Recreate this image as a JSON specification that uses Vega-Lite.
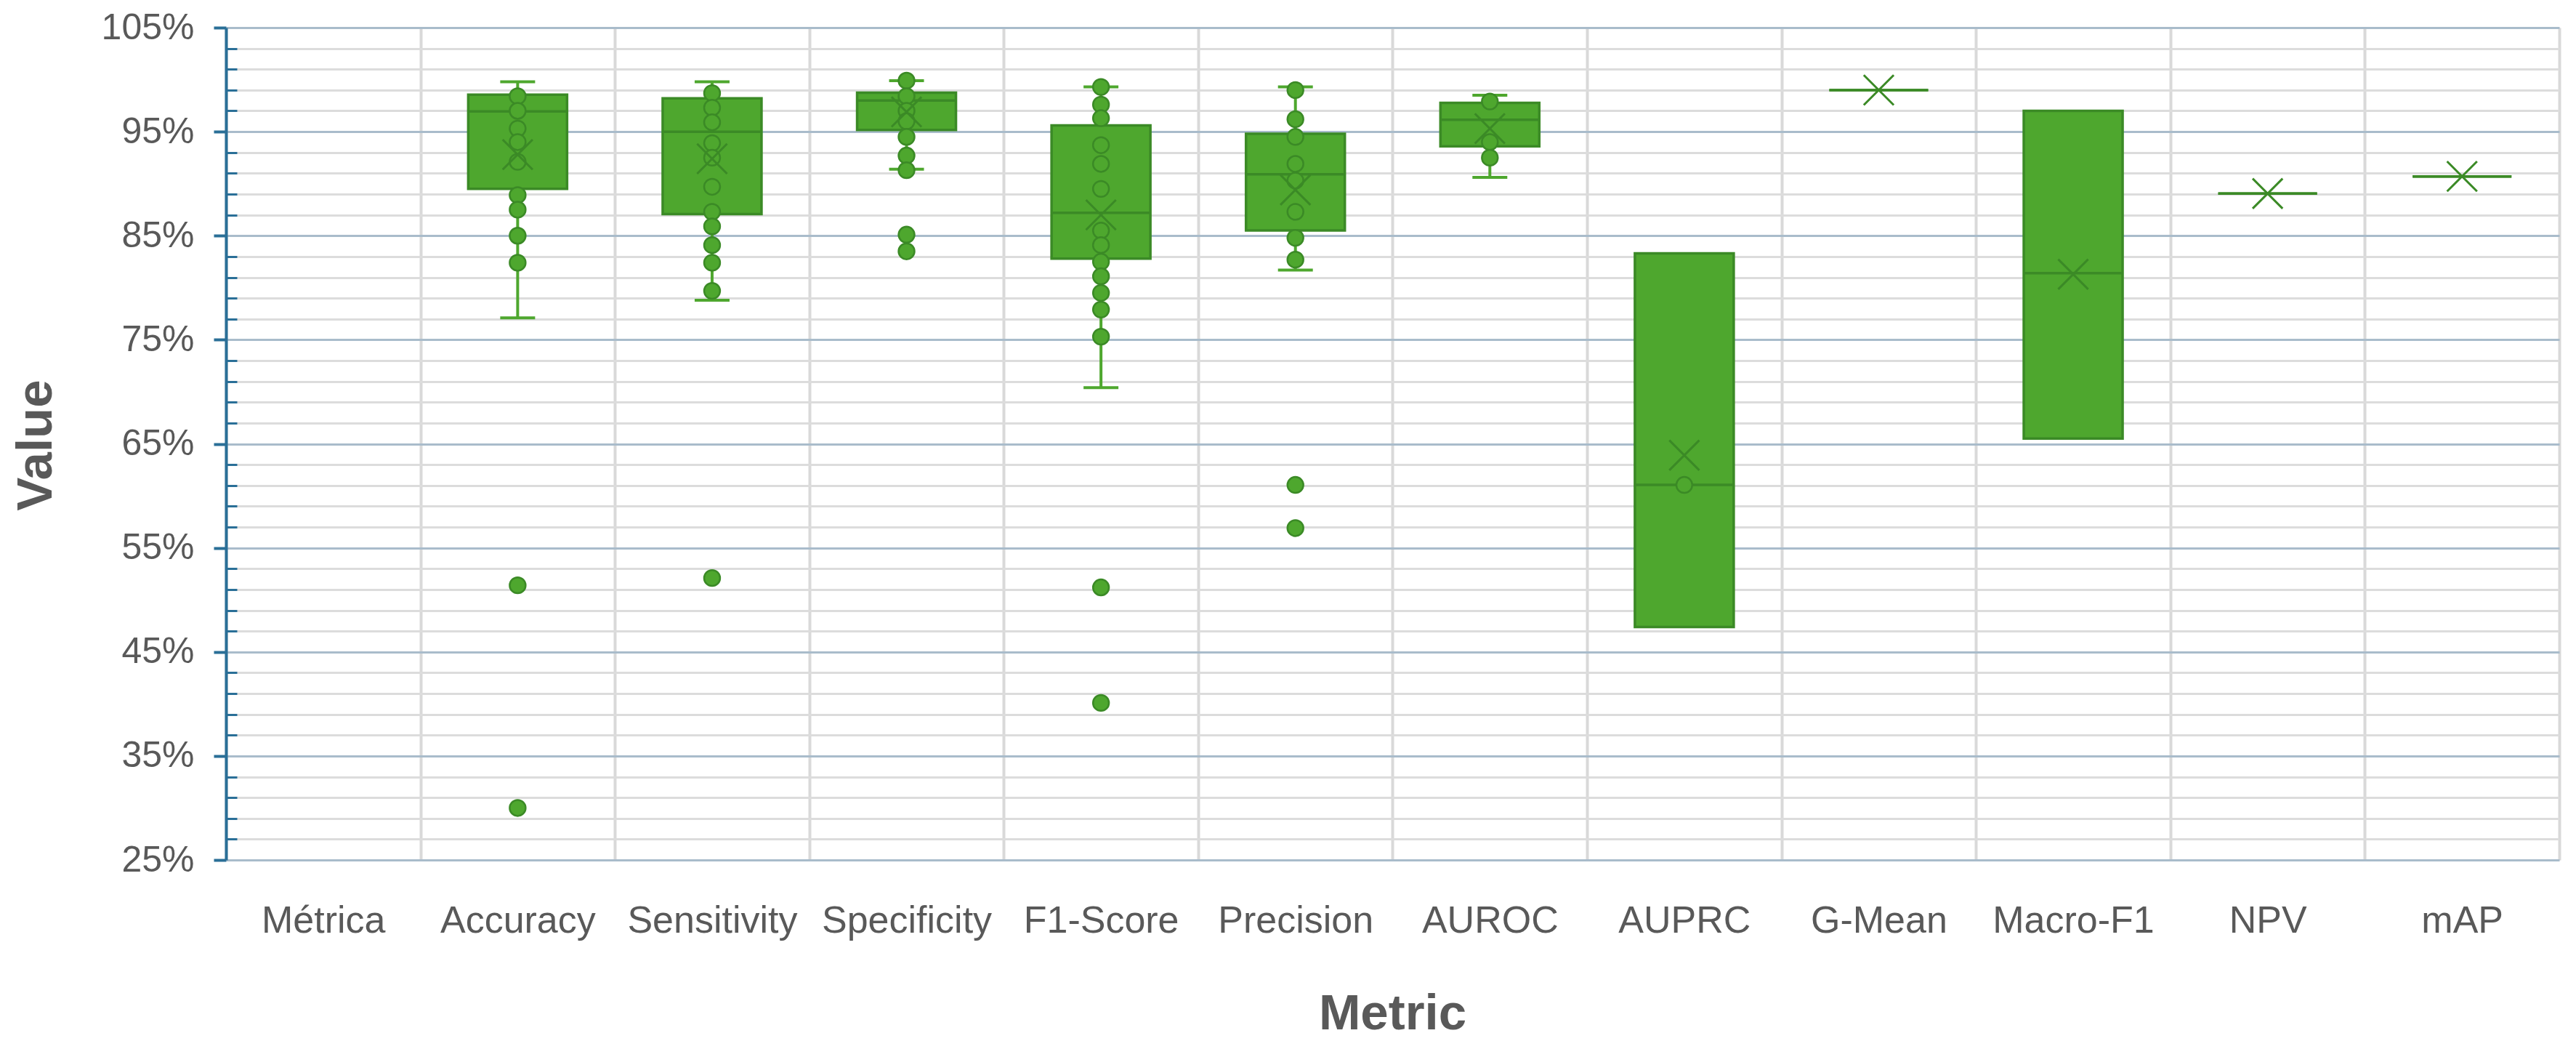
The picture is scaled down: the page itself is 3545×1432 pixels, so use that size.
{
  "$schema": "https://vega.github.io/schema/vega-lite/v6.json",
  "width": 3211,
  "height": 1145,
  "autosize": {"type": "none"},
  "padding": {"left": 311, "top": 38, "right": 23, "bottom": 249},
  "background": "white",
  "config": {"view": {"stroke": null}, "font": "Liberation Sans"},
  "datasets": {
    "boxes": [
      {"metric": "Accuracy", "lo": 77.1, "q1": 89.5, "median": 96.95, "q3": 98.56, "hi": 99.8, "mean": 92.8},
      {"metric": "Sensitivity", "lo": 78.8, "q1": 87.07, "median": 95.0, "q3": 98.2, "hi": 99.8, "mean": 92.4},
      {"metric": "Specificity", "lo": 91.4, "q1": 95.16, "median": 97.99, "q3": 98.75, "hi": 99.9, "mean": 96.9},
      {"metric": "F1-Score", "lo": 70.4, "q1": 82.8, "median": 87.2, "q3": 95.6, "hi": 99.3, "mean": 87.0},
      {"metric": "Precision", "lo": 81.7, "q1": 85.5, "median": 90.9, "q3": 94.8, "hi": 99.3, "mean": 89.4},
      {"metric": "AUROC", "lo": 90.6, "q1": 93.6, "median": 96.15, "q3": 97.76, "hi": 98.5, "mean": 95.3},
      {"metric": "AUPRC", "lo": null, "q1": 47.4, "median": 61.05, "q3": 83.3, "hi": null, "mean": 63.9},
      {"metric": "G-Mean", "lo": null, "q1": 99.0, "median": 99.0, "q3": 99.0, "hi": null, "mean": 99.0},
      {"metric": "Macro-F1", "lo": null, "q1": 65.5, "median": 81.4, "q3": 97.0, "hi": null, "mean": 81.3},
      {"metric": "NPV", "lo": null, "q1": 89.05, "median": 89.05, "q3": 89.05, "hi": null, "mean": 89.05},
      {"metric": "mAP", "lo": null, "q1": 90.7, "median": 90.7, "q3": 90.7, "hi": null, "mean": 90.7}
    ],
    "points": [
      {"metric": "Accuracy", "value": 98.4},
      {"metric": "Accuracy", "value": 97.0},
      {"metric": "Accuracy", "value": 95.3},
      {"metric": "Accuracy", "value": 94.0},
      {"metric": "Accuracy", "value": 92.1},
      {"metric": "Accuracy", "value": 88.9},
      {"metric": "Accuracy", "value": 87.5},
      {"metric": "Accuracy", "value": 85.0},
      {"metric": "Accuracy", "value": 82.4},
      {"metric": "Accuracy", "value": 51.4},
      {"metric": "Accuracy", "value": 30.0},
      {"metric": "Sensitivity", "value": 98.7},
      {"metric": "Sensitivity", "value": 97.3},
      {"metric": "Sensitivity", "value": 95.9},
      {"metric": "Sensitivity", "value": 93.9},
      {"metric": "Sensitivity", "value": 92.5},
      {"metric": "Sensitivity", "value": 89.7},
      {"metric": "Sensitivity", "value": 87.3},
      {"metric": "Sensitivity", "value": 85.9},
      {"metric": "Sensitivity", "value": 84.1},
      {"metric": "Sensitivity", "value": 82.4},
      {"metric": "Sensitivity", "value": 79.7},
      {"metric": "Sensitivity", "value": 52.1},
      {"metric": "Specificity", "value": 99.9},
      {"metric": "Specificity", "value": 98.4},
      {"metric": "Specificity", "value": 97.0},
      {"metric": "Specificity", "value": 96.0},
      {"metric": "Specificity", "value": 94.5},
      {"metric": "Specificity", "value": 92.7},
      {"metric": "Specificity", "value": 91.3},
      {"metric": "Specificity", "value": 85.1},
      {"metric": "Specificity", "value": 83.5},
      {"metric": "F1-Score", "value": 99.3},
      {"metric": "F1-Score", "value": 97.6},
      {"metric": "F1-Score", "value": 96.3},
      {"metric": "F1-Score", "value": 93.7},
      {"metric": "F1-Score", "value": 91.9},
      {"metric": "F1-Score", "value": 89.5},
      {"metric": "F1-Score", "value": 85.5},
      {"metric": "F1-Score", "value": 84.1},
      {"metric": "F1-Score", "value": 82.5},
      {"metric": "F1-Score", "value": 81.1},
      {"metric": "F1-Score", "value": 79.5},
      {"metric": "F1-Score", "value": 77.9},
      {"metric": "F1-Score", "value": 75.3},
      {"metric": "F1-Score", "value": 51.2},
      {"metric": "F1-Score", "value": 40.1},
      {"metric": "Precision", "value": 99.0},
      {"metric": "Precision", "value": 96.2},
      {"metric": "Precision", "value": 94.5},
      {"metric": "Precision", "value": 91.9},
      {"metric": "Precision", "value": 90.3},
      {"metric": "Precision", "value": 87.3},
      {"metric": "Precision", "value": 84.8},
      {"metric": "Precision", "value": 82.7},
      {"metric": "Precision", "value": 61.05},
      {"metric": "Precision", "value": 56.9},
      {"metric": "AUROC", "value": 97.9},
      {"metric": "AUROC", "value": 94.0},
      {"metric": "AUROC", "value": 92.5},
      {"metric": "AUPRC", "value": 61.05}
    ]
  },
  "encoding": {
    "x": {
      "field": "metric",
      "type": "nominal",
      "sort": null,
      "scale": {
        "type": "band",
        "domain": ["Métrica", "Accuracy", "Sensitivity", "Specificity", "F1-Score", "Precision", "AUROC", "AUPRC", "G-Mean", "Macro-F1", "NPV", "mAP"],
        "paddingInner": 0,
        "paddingOuter": 0
      },
      "axis": {
        "title": "Metric",
        "titleFontSize": 69,
        "titleFontWeight": "bold",
        "titleColor": "#595959",
        "titleBaseline": "alphabetic",
        "titleAlign": "center",
        "titleX": 1605,
        "titleY": 232,
        "labelFontSize": 52,
        "labelColor": "#595959",
        "labelAngle": 0,
        "labelLimit": 0,
        "labelBaseline": "alphabetic",
        "labelPadding": 99,
        "ticks": false,
        "tickSize": 0,
        "domain": false,
        "grid": true,
        "gridColor": "#D9D9D9",
        "gridWidth": 4,
        "tickBand": "extent"
      }
    }
  },
  "layer": [
    {
      "data": {"name": "boxes"},
      "transform": [{"filter": "isValid(datum.hi)"}],
      "mark": {"type": "rule", "color": "#4EA72E", "strokeWidth": 4},
      "encoding": {
        "y": {"field": "q3", "type": "quantitative", "scale": {"domain": [25, 105], "nice": false, "zero": false},
          "axis": {
            "orient": "left",
            "values": [27, 29, 31, 33, 37, 39, 41, 43, 47, 49, 51, 53, 57, 59, 61, 63, 67, 69, 71, 73, 77, 79, 81, 83, 87, 89, 91, 93, 97, 99, 101, 103],
            "labels": false,
            "ticks": true,
            "tickSize": -15,
            "tickColor": "#2A6F97",
            "tickWidth": 3,
            "domain": false,
            "grid": true,
            "gridColor": "#DCDCDC",
            "gridWidth": 3,
            "title": null
          }
        },
        "y2": {"field": "hi"}
      }
    },
    {
      "data": {"name": "boxes"},
      "transform": [{"filter": "isValid(datum.lo)"}],
      "mark": {"type": "rule", "color": "#4EA72E", "strokeWidth": 4},
      "encoding": {
        "y": {"field": "lo", "type": "quantitative", "scale": {"domain": [25, 105], "nice": false, "zero": false},
          "axis": {
            "orient": "left",
            "values": [25, 35, 45, 55, 65, 75, 85, 95, 105],
            "labelExpr": "datum.value + '%'",
            "labelFontSize": 50,
            "labelColor": "#595959",
            "labelPadding": 27,
            "tickSize": 17,
            "tickColor": "#2A6F97",
            "tickWidth": 4,
            "domain": true,
            "domainColor": "#2A6F97",
            "domainWidth": 4,
            "grid": true,
            "gridColor": "#A9BCCB",
            "gridWidth": 3,
            "title": "Value",
            "titleFontSize": 69,
            "titleFontWeight": "bold",
            "titleColor": "#595959",
            "titleAngle": -90,
            "titleBaseline": "alphabetic",
            "titleAlign": "center",
            "titleX": -241,
            "titleY": 574
          }
        },
        "y2": {"field": "q1"}
      }
    },
    {
      "data": {"name": "boxes"},
      "transform": [{"filter": "isValid(datum.hi)"}],
      "mark": {"type": "tick", "color": "#4EA72E", "size": 48, "thickness": 4, "opacity": 1},
      "encoding": {
        "y": {"field": "hi", "type": "quantitative", "scale": {"domain": [25, 105], "nice": false, "zero": false}, "axis": null}
      }
    },
    {
      "data": {"name": "boxes"},
      "transform": [{"filter": "isValid(datum.lo)"}],
      "mark": {"type": "tick", "color": "#4EA72E", "size": 48, "thickness": 4, "opacity": 1},
      "encoding": {
        "y": {"field": "lo", "type": "quantitative", "scale": {"domain": [25, 105], "nice": false, "zero": false}, "axis": null}
      }
    },
    {
      "data": {"name": "boxes"},
      "mark": {"type": "bar", "width": 136, "fill": "#4EA72E", "stroke": "#3B8A26", "strokeWidth": 3.5, "opacity": 1},
      "encoding": {
        "y": {"field": "q1", "type": "quantitative", "scale": {"domain": [25, 105], "nice": false, "zero": false}, "axis": null},
        "y2": {"field": "q3"}
      }
    },
    {
      "data": {"name": "boxes"},
      "mark": {"type": "tick", "color": "#3B8A26", "size": 136, "thickness": 3.5, "opacity": 1},
      "encoding": {
        "y": {"field": "median", "type": "quantitative", "scale": {"domain": [25, 105], "nice": false, "zero": false}, "axis": null}
      }
    },
    {
      "data": {"name": "points"},
      "mark": {"type": "point", "shape": "circle", "filled": true, "fill": "#4EA72E", "stroke": "#3B8A26", "strokeWidth": 2.5, "size": 480, "opacity": 1},
      "encoding": {
        "y": {"field": "value", "type": "quantitative", "scale": {"domain": [25, 105], "nice": false, "zero": false}, "axis": null}
      }
    },
    {
      "data": {"name": "boxes"},
      "mark": {"type": "point", "shape": "M-1,-1L1,1M-1,1L1,-1", "filled": false, "stroke": "#3B8A26", "strokeWidth": 3, "size": 1700, "opacity": 1},
      "encoding": {
        "y": {"field": "mean", "type": "quantitative", "scale": {"domain": [25, 105], "nice": false, "zero": false}, "axis": null}
      }
    }
  ],
  "resolve": {"axis": {"y": "independent"}}
}
